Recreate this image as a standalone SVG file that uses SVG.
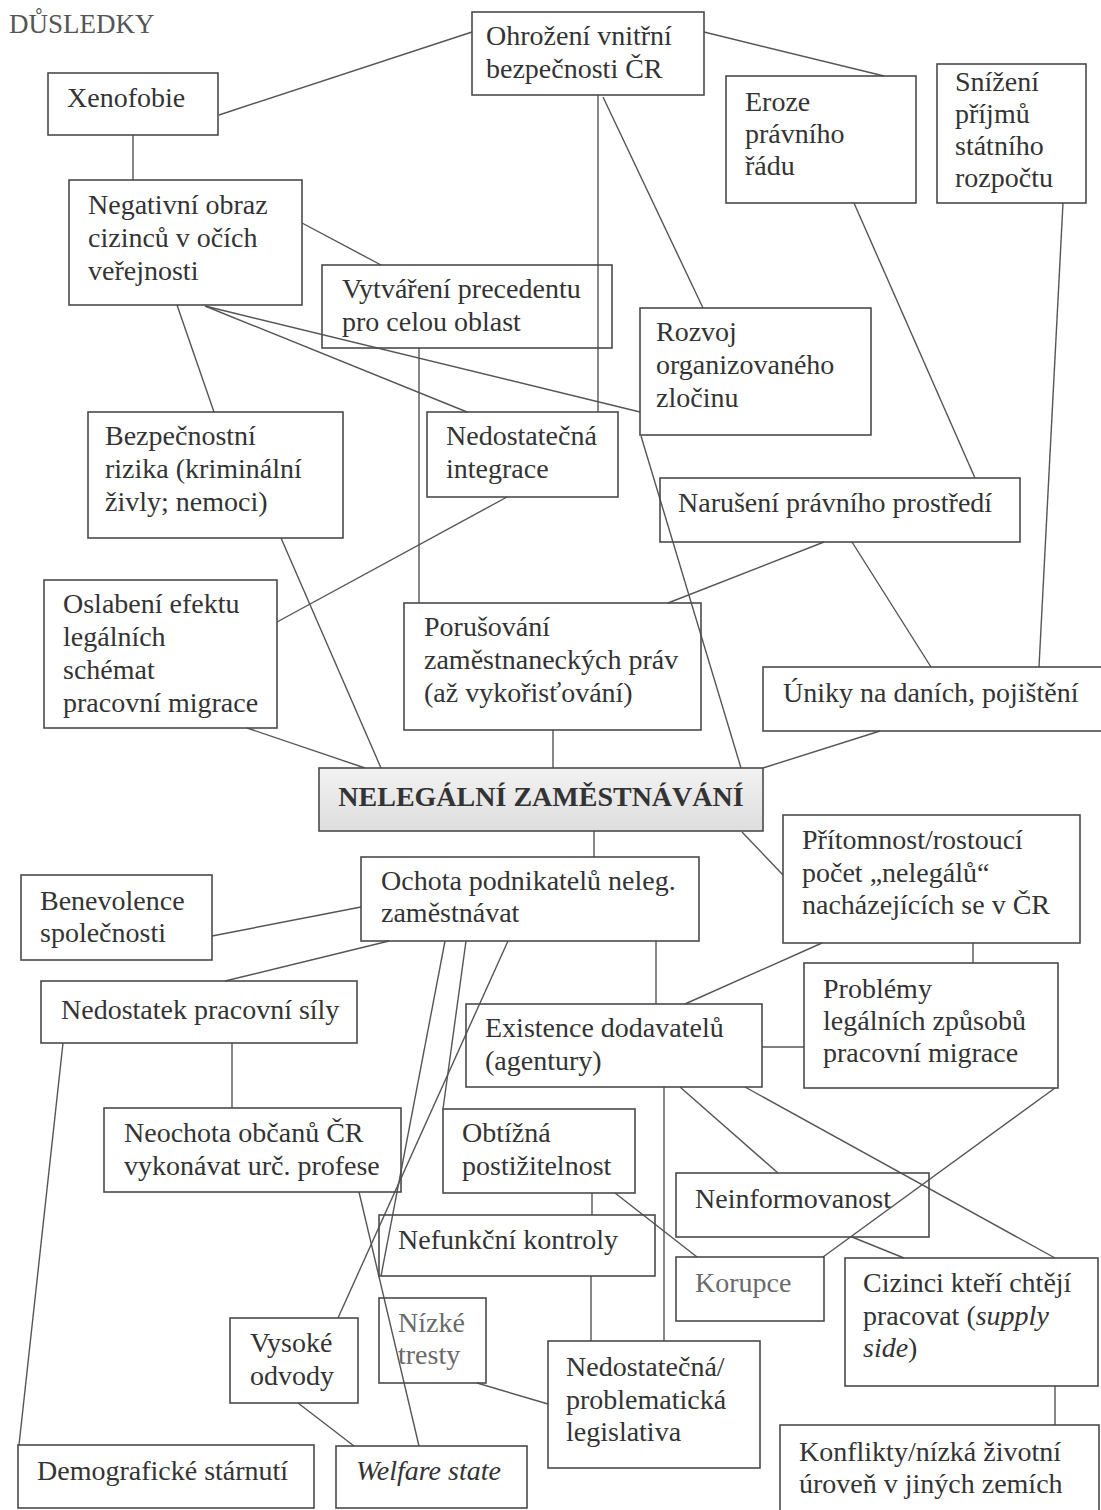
<svg xmlns="http://www.w3.org/2000/svg" width="1101" height="1510" viewBox="0 0 1101 1510">
<style>
  .box{fill:none;stroke:#4a4a4a;stroke-width:1.6}
  .t{font-family:"Liberation Serif","Times New Roman",serif;font-size:28px;fill:#333}
  .g{fill:#6a6a6a}
  .c line{stroke:#555;stroke-width:1.4}
</style>
<defs>
  <linearGradient id="tg" x1="0" y1="0" x2="0" y2="1">
    <stop offset="0" stop-color="#f2f2f2"/>
    <stop offset="1" stop-color="#dedede"/>
  </linearGradient>
</defs>
<rect width="1101" height="1510" fill="#fff"/>
<text x="9" y="33" class="t" style="font-size:27px;fill:#555">DŮSLEDKY</text>

<g id="connectors" class="c">
  <line x1="219" y1="115" x2="472" y2="32"/>
  <line x1="704" y1="32" x2="884" y2="76"/>
  <line x1="133" y1="135" x2="133" y2="180"/>
  <line x1="598" y1="95" x2="598" y2="412"/>
  <line x1="603" y1="97" x2="703" y2="308"/>
  <line x1="302" y1="223" x2="381" y2="265"/>
  <line x1="177" y1="305" x2="214" y2="412"/>
  <line x1="205" y1="306" x2="467" y2="412"/>
  <line x1="205" y1="306" x2="640" y2="412"/>
  <line x1="419" y1="348" x2="419" y2="603"/>
  <line x1="854" y1="203" x2="975" y2="478"/>
  <line x1="1063" y1="203" x2="1039" y2="667"/>
  <line x1="641" y1="436" x2="741" y2="768"/>
  <line x1="281" y1="538" x2="381" y2="768"/>
  <line x1="507" y1="497" x2="277" y2="622"/>
  <line x1="247" y1="728" x2="365" y2="768"/>
  <line x1="824" y1="542" x2="668" y2="603"/>
  <line x1="852" y1="542" x2="931" y2="667"/>
  <line x1="880" y1="731" x2="763" y2="768"/>
  <line x1="553" y1="730" x2="553" y2="768"/>
  <line x1="594" y1="831" x2="594" y2="857"/>
  <line x1="742" y1="832" x2="783" y2="875"/>
  <line x1="212" y1="936" x2="361" y2="907"/>
  <line x1="389" y1="941" x2="225" y2="981"/>
  <line x1="656" y1="941" x2="656" y2="1004"/>
  <line x1="445" y1="941" x2="381" y2="1276"/>
  <line x1="466" y1="941" x2="443" y2="1109"/>
  <line x1="508" y1="941" x2="338" y2="1318"/>
  <line x1="232" y1="1043" x2="232" y2="1108"/>
  <line x1="63" y1="1043" x2="19" y2="1445"/>
  <line x1="359" y1="1192" x2="419" y2="1446"/>
  <line x1="822" y1="943" x2="685" y2="1004"/>
  <line x1="973" y1="943" x2="973" y2="963"/>
  <line x1="762" y1="1047" x2="804" y2="1047"/>
  <line x1="680" y1="1087" x2="778" y2="1173"/>
  <line x1="745" y1="1087" x2="1055" y2="1258"/>
  <line x1="1055" y1="1088" x2="823" y2="1257"/>
  <line x1="664" y1="1087" x2="664" y2="1341"/>
  <line x1="592" y1="1193" x2="592" y2="1215"/>
  <line x1="615" y1="1193" x2="697" y2="1257"/>
  <line x1="591" y1="1276" x2="591" y2="1341"/>
  <line x1="852" y1="1237" x2="904" y2="1258"/>
  <line x1="1055" y1="1386" x2="1055" y2="1425"/>
  <line x1="298" y1="1403" x2="354" y2="1446"/>
  <line x1="477" y1="1383" x2="548" y2="1404"/>
</g>

<g id="n-ohrozeni"><rect class="box" x="472" y="12" width="232" height="83"/>
  <text class="t" x="486" y="45">Ohrožení vnitřní</text><text class="t" x="486" y="78">bezpečnosti ČR</text></g>
<g id="n-xenofobie"><rect class="box" x="48" y="73" width="170" height="62"/>
  <text class="t" x="67" y="107">Xenofobie</text></g>
<g id="n-eroze"><rect class="box" x="726" y="76" width="190" height="127"/>
  <text class="t" x="745" y="111">Eroze</text><text class="t" x="745" y="143">právního</text><text class="t" x="745" y="175">řádu</text></g>
<g id="n-snizeni"><rect class="box" x="937" y="64" width="149" height="139"/>
  <text class="t" x="955" y="91">Snížení</text><text class="t" x="955" y="123">příjmů</text><text class="t" x="955" y="155">státního</text><text class="t" x="955" y="187">rozpočtu</text></g>
<g id="n-negativni"><rect class="box" x="69" y="180" width="233" height="125"/>
  <text class="t" x="88" y="214">Negativní obraz</text><text class="t" x="88" y="247">cizinců v očích</text><text class="t" x="88" y="280">veřejnosti</text></g>
<g id="n-vytvareni"><rect class="box" x="322" y="265" width="290" height="83"/>
  <text class="t" x="342" y="298">Vytváření precedentu</text><text class="t" x="342" y="331">pro celou oblast</text></g>
<g id="n-rozvoj"><rect class="box" x="640" y="308" width="231" height="127"/>
  <text class="t" x="656" y="341">Rozvoj</text><text class="t" x="656" y="374">organizovaného</text><text class="t" x="656" y="407">zločinu</text></g>
<g id="n-bezpecnostni"><rect class="box" x="88" y="412" width="255" height="126"/>
  <text class="t" x="105" y="445">Bezpečnostní</text><text class="t" x="105" y="478">rizika (kriminální</text><text class="t" x="105" y="511">živly; nemoci)</text></g>
<g id="n-integrace"><rect class="box" x="427" y="412" width="191" height="85"/>
  <text class="t" x="446" y="445">Nedostatečná</text><text class="t" x="446" y="478">integrace</text></g>
<g id="n-naruseni"><rect class="box" x="660" y="478" width="360" height="64"/>
  <text class="t" x="678" y="512">Narušení právního prostředí</text></g>
<g id="n-oslabeni"><rect class="box" x="44" y="580" width="233" height="148"/>
  <text class="t" x="63" y="613">Oslabení efektu</text><text class="t" x="63" y="646">legálních</text><text class="t" x="63" y="679">schémat</text><text class="t" x="63" y="712">pracovní migrace</text></g>
<g id="n-porusovani"><rect class="box" x="404" y="603" width="297" height="127"/>
  <text class="t" x="424" y="636">Porušování</text><text class="t" x="424" y="669">zaměstnaneckých práv</text><text class="t" x="424" y="702">(až vykořisťování)</text></g>
<g id="n-uniky"><rect class="box" x="763" y="667" width="342" height="64"/>
  <text class="t" x="783" y="702">Úniky na daních, pojištění</text></g>
<g id="n-nelegalni"><rect x="319" y="768" width="444" height="63" fill="url(#tg)" stroke="#4a4a4a" stroke-width="1.6"/>
  <text class="t" x="541" y="806" text-anchor="middle" font-weight="bold">NELEGÁLNÍ ZAMĚSTNÁVÁNÍ</text></g>
<g id="n-pritomnost"><rect class="box" x="783" y="815" width="297" height="128"/>
  <text class="t" x="802" y="849">Přítomnost/rostoucí</text><text class="t" x="802" y="882">počet „nelegálů“</text><text class="t" x="802" y="914">nacházejících se v ČR</text></g>
<g id="n-ochota"><rect class="box" x="361" y="857" width="338" height="84"/>
  <text class="t" x="381" y="890">Ochota podnikatelů neleg.</text><text class="t" x="381" y="922">zaměstnávat</text></g>
<g id="n-benevolence"><rect class="box" x="21" y="875" width="191" height="85"/>
  <text class="t" x="40" y="910">Benevolence</text><text class="t" x="40" y="942">společnosti</text></g>
<g id="n-nedostatek"><rect class="box" x="41" y="981" width="316" height="62"/>
  <text class="t" x="61" y="1019">Nedostatek pracovní síly</text></g>
<g id="n-problemy"><rect class="box" x="804" y="963" width="254" height="125"/>
  <text class="t" x="823" y="998">Problémy</text><text class="t" x="823" y="1030">legálních způsobů</text><text class="t" x="823" y="1062">pracovní migrace</text></g>
<g id="n-existence"><rect class="box" x="466" y="1004" width="296" height="83"/>
  <text class="t" x="485" y="1037">Existence dodavatelů</text><text class="t" x="485" y="1070">(agentury)</text></g>
<g id="n-neochota"><rect class="box" x="104" y="1108" width="297" height="84"/>
  <text class="t" x="124" y="1142">Neochota občanů ČR</text><text class="t" x="124" y="1175">vykonávat urč. profese</text></g>
<g id="n-obtizna"><rect class="box" x="443" y="1109" width="192" height="84"/>
  <text class="t" x="462" y="1142">Obtížná</text><text class="t" x="462" y="1175">postižitelnost</text></g>
<g id="n-neinformovanost"><rect class="box" x="676" y="1173" width="253" height="64"/>
  <text class="t" x="695" y="1208">Neinformovanost</text></g>
<g id="n-nefunkcni"><rect class="box" x="379" y="1215" width="276" height="61"/>
  <text class="t" x="398" y="1249">Nefunkční kontroly</text></g>
<g id="n-korupce"><rect class="box" x="676" y="1257" width="148" height="64"/>
  <text class="t g" x="695" y="1292">Korupce</text></g>
<g id="n-cizinci"><rect class="box" x="845" y="1258" width="253" height="128"/>
  <text class="t" x="863" y="1292">Cizinci kteří chtějí</text><text class="t" x="863" y="1325">pracovat (<tspan font-style="italic">supply</tspan></text><text class="t" x="863" y="1357"><tspan font-style="italic">side</tspan>)</text></g>
<g id="n-nizke"><rect class="box" x="379" y="1298" width="107" height="85"/>
  <text class="t g" x="398" y="1332">Nízké</text><text class="t g" x="398" y="1364">tresty</text></g>
<g id="n-vysoke"><rect class="box" x="230" y="1318" width="128" height="85"/>
  <text class="t" x="250" y="1352">Vysoké</text><text class="t" x="250" y="1385">odvody</text></g>
<g id="n-legislativa"><rect class="box" x="548" y="1341" width="212" height="127"/>
  <text class="t" x="566" y="1376">Nedostatečná/</text><text class="t" x="566" y="1409">problematická</text><text class="t" x="566" y="1441">legislativa</text></g>
<g id="n-konflikty"><rect class="box" x="780" y="1425" width="319" height="92"/>
  <text class="t" x="799" y="1461">Konflikty/nízká životní</text><text class="t" x="799" y="1493">úroveň v jiných zemích</text></g>
<g id="n-demograficke"><rect class="box" x="18" y="1445" width="296" height="63"/>
  <text class="t" x="37" y="1480">Demografické stárnutí</text></g>
<g id="n-welfare"><rect class="box" x="336" y="1446" width="191" height="62"/>
  <text class="t" x="356" y="1480" font-style="italic">Welfare state</text></g>
</svg>
